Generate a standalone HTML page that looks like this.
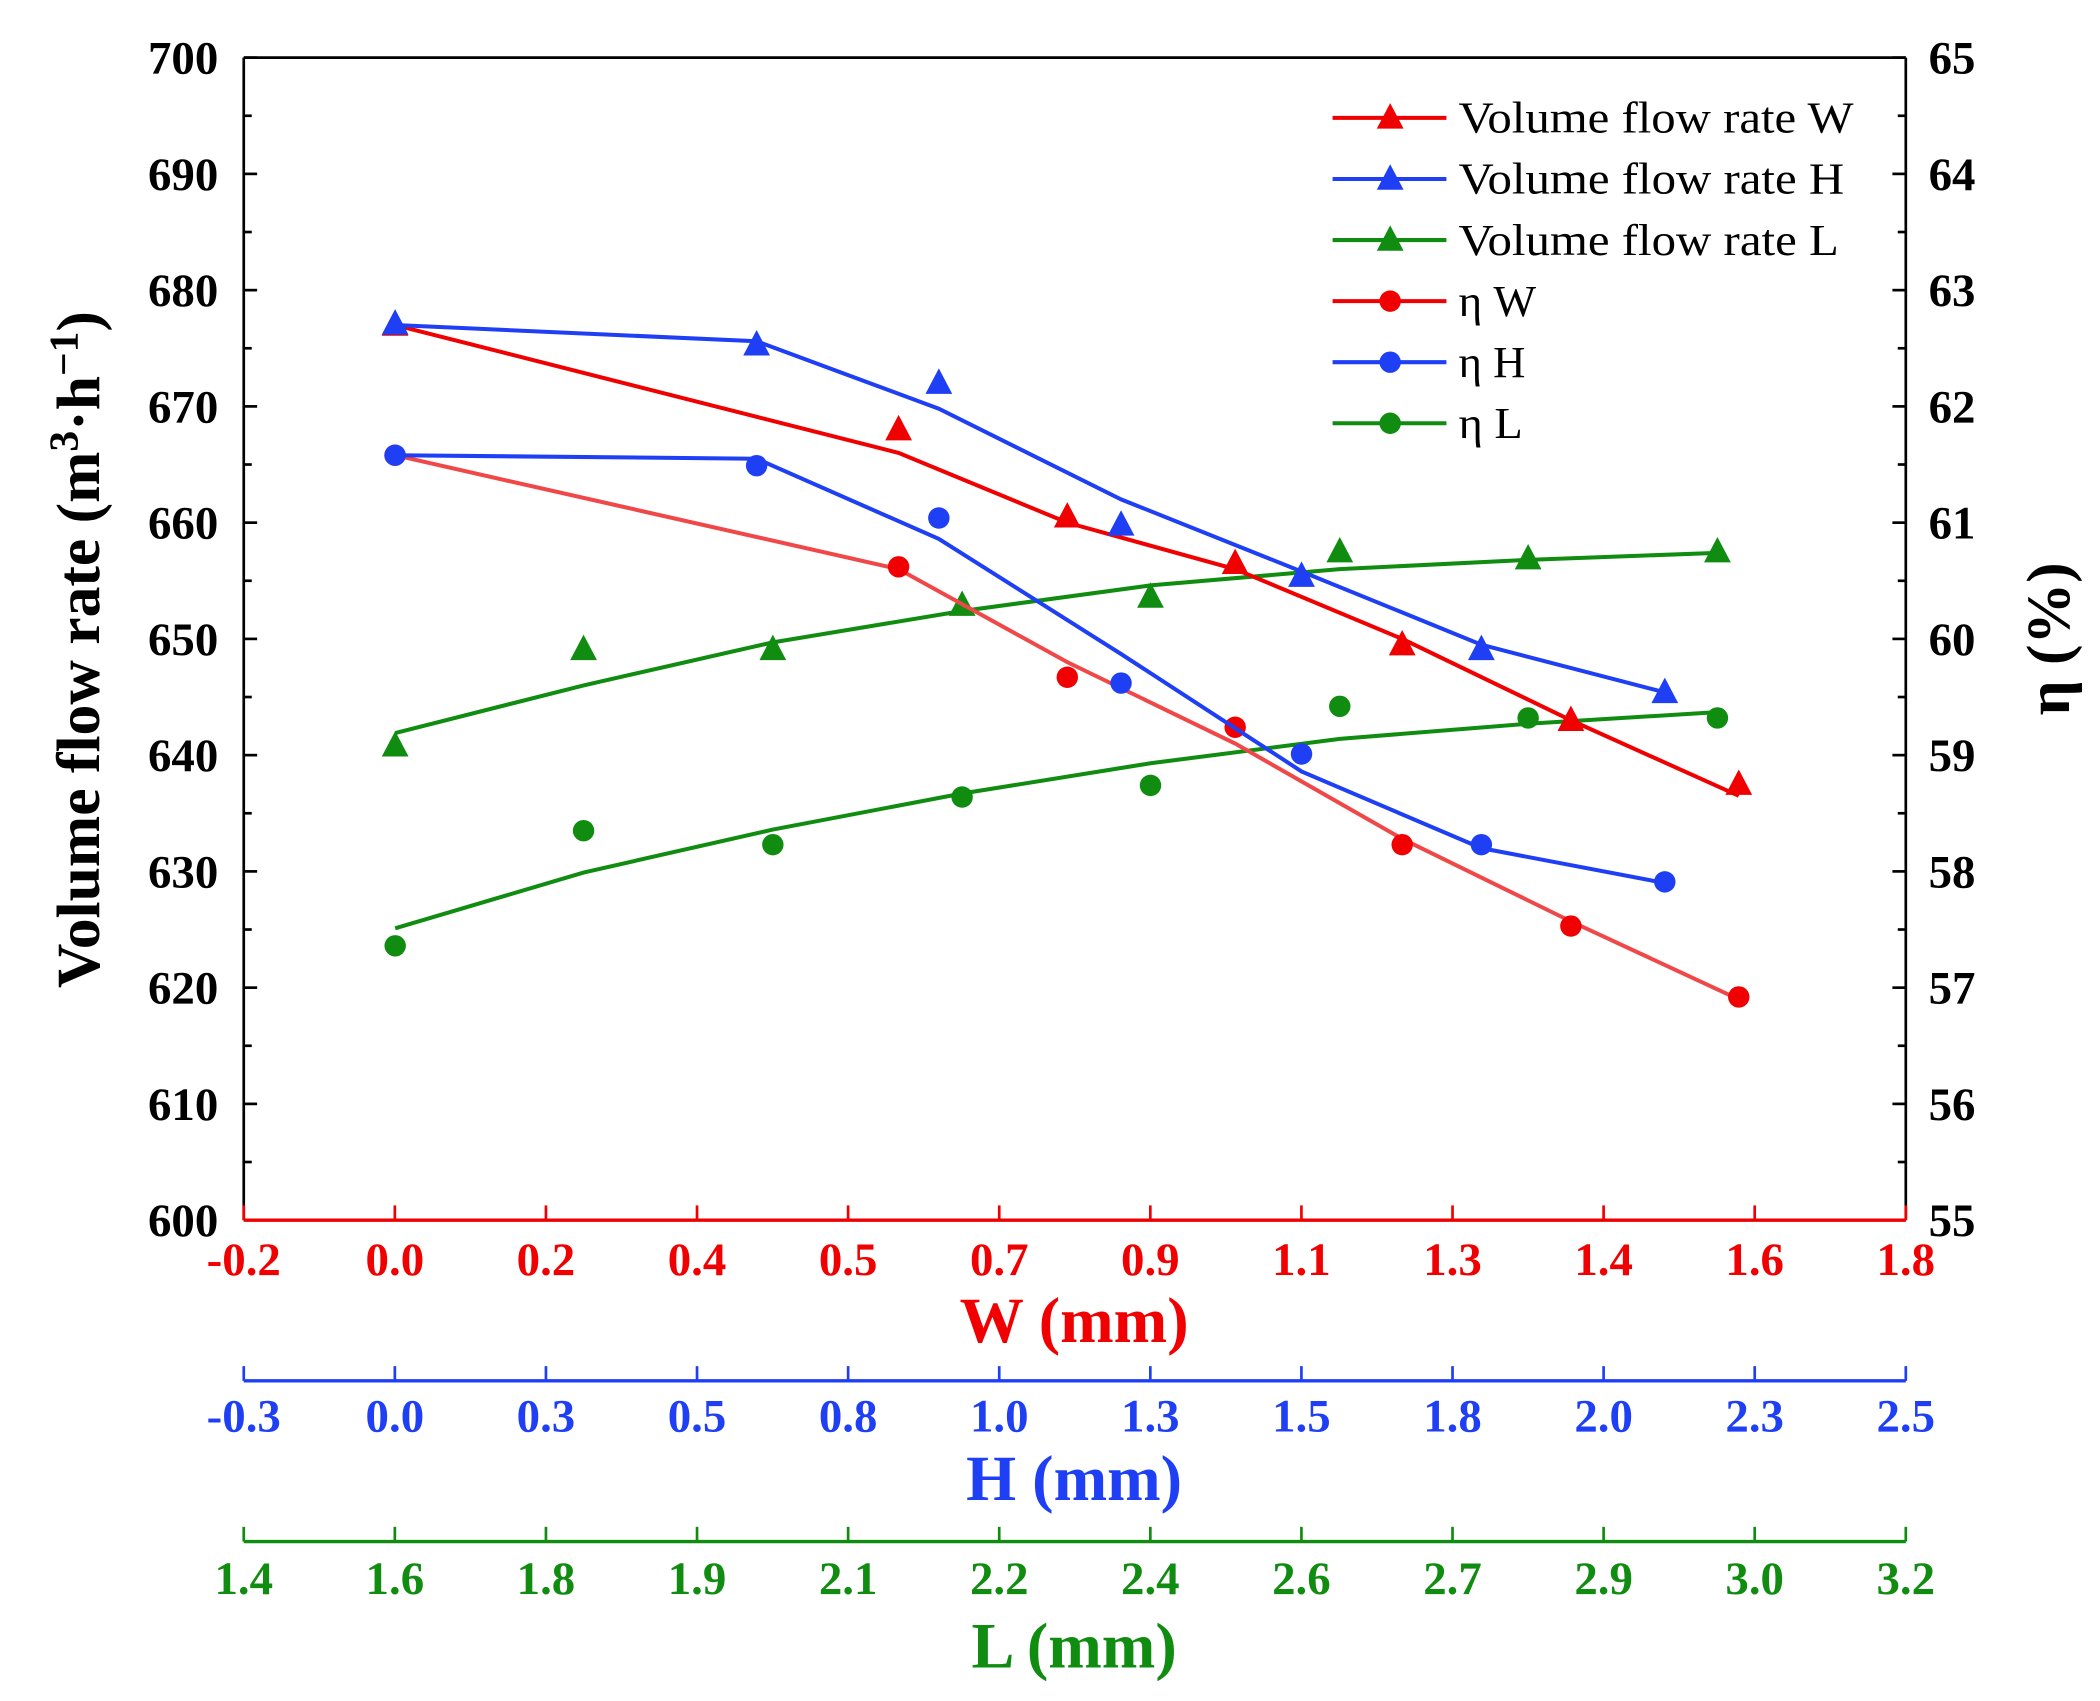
<!DOCTYPE html>
<html><head><meta charset="utf-8"><style>html,body{margin:0;padding:0;background:#fff}svg{display:block}text{font-family:"Liberation Serif",serif}</style></head>
<body>
<svg id="chart" width="2100" height="1701" viewBox="0 0 1568 1270" xmlns="http://www.w3.org/2000/svg"></svg>
<script>
const leftTicks=[600,610,620,630,640,650,660,670,680,690,700];
const rightTicks=[55,56,57,58,59,60,61,62,63,64,65];
const wLabels=["-0.2","0.0","0.2","0.4","0.5","0.7","0.9","1.1","1.3","1.4","1.6","1.8"];
const hLabels=["-0.3","0.0","0.3","0.5","0.8","1.0","1.3","1.5","1.8","2.0","2.3","2.5"];
const lLabels=["1.4","1.6","1.8","1.9","2.1","2.2","2.4","2.6","2.7","2.9","3.0","3.2"];
const wX=[-0.018,0.588,0.791,0.993,1.194,1.397,1.599];
const volW=[677,668,660.5,656.5,649.5,643,637.5];
const volWFit=[677,666,660,656,650,643,636.5];
const etaW=[61.58,60.62,59.67,59.24,58.23,57.53,56.92];
const etaWFit=[61.58,60.6,59.8,59.1,58.28,57.57,56.9];
const hX=[-0.045,0.564,0.871,1.178,1.482,1.785,2.094];
const volH=[677.1,675.3,672,659.8,655.4,649.1,645.4];
const volHFit=[677,675.6,669.8,662,655.8,649.5,645.4];
const etaH=[61.58,61.49,61.04,59.62,59.01,58.23,57.91];
const etaHFit=[61.58,61.55,60.86,59.87,58.86,58.2,57.9];
const lX=[1.564,1.768,1.973,2.178,2.382,2.587,2.791,2.996];
const volL=[640.8,649.1,649.1,652.9,653.6,657.5,656.9,657.5];
const volLFit=[641.9,646,649.7,652.4,654.6,656,656.8,657.4];
const etaL=[57.36,58.35,58.23,58.64,58.74,59.42,59.32,59.32];
const etaLFit=[57.51,57.99,58.36,58.67,58.93,59.14,59.27,59.37];

const X0=182,X1=1423,Y0=911,Y1=43;
const ns="http://www.w3.org/2000/svg";
const svg=document.getElementById('chart');
function el(t,a,txt){const e=document.createElementNS(ns,t);for(const k in a)e.setAttribute(k,a[k]);if(txt!==undefined)e.textContent=txt;svg.appendChild(e);return e;}
const yL=v=>Y0-(v-600)/100*(Y0-Y1);
const yR=v=>Y0-(v-55)/10*(Y0-Y1);
const xW=v=>X0+(v+0.2)/2*(X1-X0);
const xH=v=>X0+(v+0.3)/2.8*(X1-X0);
const xL=v=>X0+(v-1.4)/1.8*(X1-X0);
const RED="#f00000",BLUE="#1f3ff5",GREEN="#108c10";
let e;
e=el('line',{x1:X0,y1:Y1,x2:X1,y2:Y1,stroke:'#000','stroke-width':2});

e=el('line',{x1:X0,y1:Y1,x2:X0,y2:Y0,stroke:'#000','stroke-width':2});

e=el('line',{x1:X1,y1:Y1,x2:X1,y2:Y0,stroke:'#000','stroke-width':2});

leftTicks.forEach((v,i)=>{
  const y=yL(v);
  e=el('line',{x1:X0,y1:y,x2:X0+10,y2:y,stroke:'#000','stroke-width':2});
  
  if(i<leftTicks.length-1){const ym=yL(v+5);e=el('line',{x1:X0,y1:ym,x2:X0+6,y2:ym,stroke:'#000','stroke-width':2});
  }
  e=el('text',{x:163,y:y+12,'text-anchor':'end','font-size':35,'font-weight':'bold'},String(v));
  
});
rightTicks.forEach((v,i)=>{
  const y=yR(v);
  e=el('line',{x1:X1,y1:y,x2:X1-10,y2:y,stroke:'#000','stroke-width':2});
  
  if(i<rightTicks.length-1){const ym=yR(v+0.5);e=el('line',{x1:X1,y1:ym,x2:X1-6,y2:ym,stroke:'#000','stroke-width':2});
  }
  e=el('text',{x:1440,y:y+12,'text-anchor':'start','font-size':35,'font-weight':'bold'},String(v));
  
});
e=el('text',{x:0,y:0,transform:'translate(74,485) rotate(-90)','text-anchor':'middle','font-size':46,'font-weight':'bold'});

e.innerHTML='Volume flow rate (m<tspan dy="-16" font-size="31">3</tspan><tspan dy="16">·h</tspan><tspan dy="-16" font-size="31">−1</tspan><tspan dy="16">)</tspan>';
e=el('text',{x:0,y:0,transform:'translate(1545,477) rotate(-90)','text-anchor':'middle','font-size':46,'font-weight':'bold'},'η (%)');

function bottomAxis(name,color,yLine,labels,title,yLab,yTitle){
  e=el('line',{x1:X0,y1:yLine,x2:X1,y2:yLine,stroke:color,'stroke-width':2.5});
  
  labels.forEach((lab,i)=>{
    const x=X0+i*(X1-X0)/(labels.length-1);
    e=el('line',{x1:x,y1:yLine,x2:x,y2:yLine-11,stroke:color,'stroke-width':2});
    
    e=el('text',{x:x,y:yLab,'text-anchor':'middle','font-size':35,'font-weight':'bold',fill:color},lab);
    
  });
  e=el('text',{x:802,y:yTitle,'text-anchor':'middle','font-size':48,'font-weight':'bold',fill:color},title);
  
}
bottomAxis('w',RED,911,wLabels,'W (mm)',952,1002);
bottomAxis('h',BLUE,1031,hLabels,'H (mm)',1069,1120);
bottomAxis('l',GREEN,1151,lLabels,'L (mm)',1190,1245);
function tri(x,y,c,name){e=el('polygon',{points:`${x},${y-11} ${x-10},${y+8} ${x+10},${y+8}`,fill:c});
  }
function circ(x,y,c,name){e=el('circle',{cx:x,cy:y,r:8,fill:c});
  }
function series(name,xs,ys,fit,xf,yf,color,shape,lineColor){
  e=el('polyline',{points:xs.map((v,i)=>xf(v)+','+yf(fit[i])).join(' '),fill:'none',stroke:lineColor||color,'stroke-width':3});
  
  xs.forEach((v,i)=>{shape==='t'?tri(xf(v),yf(ys[i]),color,name+'-marker'):circ(xf(v),yf(ys[i]),color,name+'-marker');});
}
series('vol-l',lX,volL,volLFit,xL,yL,GREEN,'t');
series('eta-l',lX,etaL,etaLFit,xL,yR,GREEN,'c');
series('vol-w',wX,volW,volWFit,xW,yL,RED,'t');
series('eta-w',wX,etaW,etaWFit,xW,yR,RED,'c','#f04848');
series('vol-h',hX,volH,volHFit,xH,yL,BLUE,'t');
series('eta-h',hX,etaH,etaHFit,xH,yR,BLUE,'c');
const legNames=["Volume flow rate W","Volume flow rate H","Volume flow rate L","η W","η H","η L"];
const legColors=[RED,BLUE,GREEN,RED,BLUE,GREEN];
const legWidths=[295,288,284,58,50,48];
legNames.forEach((n,i)=>{
  const y=88+i*45.6;
  e=el('line',{x1:995,y1:y,x2:1080,y2:y,stroke:legColors[i],'stroke-width':3});
  
  i<3?tri(1038,y,legColors[i],'legend-marker'):circ(1038,y,legColors[i],'legend-marker');
  e=el('text',{x:1089,y:y+11,'font-size':33,textLength:legWidths[i],lengthAdjust:'spacingAndGlyphs'},n);
  
});
</script>
</body></html>
